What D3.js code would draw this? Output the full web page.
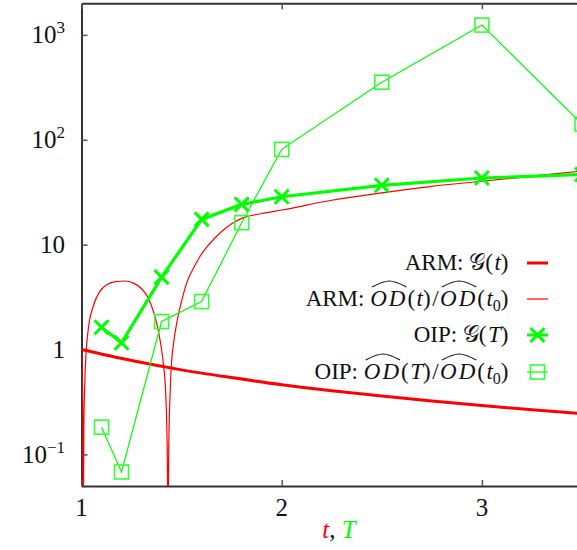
<!DOCTYPE html>
<html>
<head>
<meta charset="utf-8">
<script src="https://cdn.jsdelivr.net/npm/d3@7"></script>
<style>
  body { margin: 0; background: #fff; }
  svg { display: block; font-family: "Liberation Serif", "DejaVu Serif", serif; }
</style>
</head>
<body>
<div id="chart"></div>
<script>
// ARM: G(t), thick red line
const tArm = [1, 1.25, 1.5, 1.75, 2, 2.25, 2.5, 2.75, 3, 3.25, 3.5];
const gArm = [1, 0.785, 0.64, 0.54, 0.462, 0.405, 0.36, 0.323, 0.292, 0.266, 0.245];

// ARM: OD(t)/OD(t0), thin red curve (dips are where the ratio crosses zero)
const tArmOd = [1, 1.003, 1.006, 1.009, 1.012, 1.016, 1.022, 1.034, 1.059, 1.09, 1.13, 1.17, 1.217,
  1.26, 1.3, 1.325, 1.35, 1.375, 1.395, 1.41, 1.42, 1.428, 1.432, 1.436, 1.443, 1.45, 1.46,
  1.476, 1.5, 1.526, 1.56, 1.593, 1.64, 1.693, 1.75, 1.8, 1.9, 2, 2.25, 2.5, 2.75, 3, 3.25, 3.5];
const odArm = [1, 0.6, 0.3, 0.02, 0.2, 0.45, 0.87, 1.57, 2.6, 3.55, 4.2, 4.45, 4.5,
  4.3, 3.8, 3.3, 2.6, 1.81, 1.15, 0.7, 0.4, 0.12, 0.02, 0.12, 0.4, 0.76, 1.15,
  1.81, 2.9, 4.35, 6, 7.8, 10.2, 13, 15.8, 17.8, 19.8, 21.4, 26.5, 31.2, 36, 40.2, 45, 50.4];

// OIP points
const tOip = [1.1, 1.2, 1.4, 1.6, 1.8, 2.0, 2.5, 3.0, 3.5];
const gOip = [1.63, 1.16, 4.9, 17.4, 24.2, 28.6, 36.8, 43.2, 46.7];
const odOip = [0.182, 0.068, 1.85, 2.87, 16.2, 81, 354, 1240, 141];

const xTicks = [1, 2, 3];
const yTicks = [0.1, 1, 10, 100, 1000];
const yTickBase = ["10", "1", "10", "10", "10"];
const yTickExp = ["\u22121", "", "", "2", "3"];

const width = 577, height = 550;
const plotLeft = 81.5, plotTop = 3.3, plotBottom = 486, plotRight = 582;
const red = "#ff0000", green = "#00ff00";

const svg = d3.select("#chart").append("svg")
  .attr("width", width)
  .attr("height", height);

const x = d3.scaleLinear().domain([1, 3.5]).range([plotLeft, plotRight]);
const y = d3.scaleLog().domain([0.05, 2000]).range([plotBottom, plotTop]);

svg.append("clipPath").attr("id", "clip")
  .append("rect")
  .attr("x", plotLeft).attr("y", plotTop)
  .attr("width", plotRight - plotLeft).attr("height", plotBottom - plotTop);

// axes: ticks inside the frame
const tickStyle = g => {
  g.selectAll(".tick line").attr("stroke", "#555").attr("stroke-width", 1.5);
  g.select(".domain").attr("stroke", "#333").attr("stroke-width", 2);
};

svg.append("g")
  .attr("transform", `translate(${plotLeft},0)`)
  .call(d3.axisLeft(y).tickValues(yTicks).tickSize(-6).tickFormat("").tickSizeOuter(0))
  .call(tickStyle);

svg.append("g")
  .attr("transform", `translate(0,${plotBottom})`)
  .call(d3.axisBottom(x).tickValues(xTicks).tickSize(-6).tickFormat("").tickSizeOuter(0))
  .call(tickStyle);

svg.append("g")
  .attr("transform", `translate(0,${plotTop})`)
  .call(d3.axisTop(x).tickValues(xTicks).tickSize(-6).tickFormat("").tickSizeOuter(0))
  .call(tickStyle);

// x tick labels
svg.append("g").selectAll("text")
  .data(xTicks)
  .join("text")
  .attr("x", d => x(d))
  .attr("y", 516)
  .attr("text-anchor", "middle")
  .attr("font-size", 25)
  .attr("fill", "#111")
  .text(d => d);

// y tick labels with exponents
const yLab = svg.append("g").selectAll("text")
  .data(yTicks)
  .join("text")
  .attr("x", 65)
  .attr("y", d => y(d) + 8.5)
  .attr("text-anchor", "end")
  .attr("font-size", 25)
  .attr("fill", "#111");
yLab.append("tspan").text((d, i) => yTickBase[i]);
yLab.filter((d, i) => yTickExp[i] !== "")
  .append("tspan")
  .attr("dy", -10)
  .attr("font-size", 17)
  .text(d => yTickExp[yTicks.indexOf(d)]);

// data
const plot = svg.append("g").attr("clip-path", "url(#clip)");

const line = d3.line()
  .x(d => x(d[0]))
  .y(d => y(Math.max(d[1], 1e-4)));

plot.append("path")
  .datum(tArmOd.map((t, i) => [t, odArm[i]]))
  .attr("fill", "none").attr("stroke", red).attr("stroke-width", 1.2)
  .attr("d", line.curve(d3.curveMonotoneX));

plot.append("path")
  .datum(tArm.map((t, i) => [t, gArm[i]]))
  .attr("fill", "none").attr("stroke", red).attr("stroke-width", 3)
  .attr("d", line.curve(d3.curveMonotoneX));

plot.append("path")
  .datum(tOip.map((t, i) => [t, odOip[i]]))
  .attr("fill", "none").attr("stroke", green).attr("stroke-width", 1.2)
  .attr("d", line.curve(d3.curveLinear));

plot.append("path")
  .datum(tOip.map((t, i) => [t, gOip[i]]))
  .attr("fill", "none").attr("stroke", green).attr("stroke-width", 3.2)
  .attr("d", line.curve(d3.curveLinear));

const squareSize = 14, crossSize = 7;

plot.selectAll(".sq")
  .data(tOip.map((t, i) => [t, odOip[i]]))
  .join("rect")
  .attr("class", "sq")
  .attr("x", d => x(d[0]) - squareSize / 2)
  .attr("y", d => y(d[1]) - squareSize / 2)
  .attr("width", squareSize).attr("height", squareSize)
  .attr("fill", "none").attr("stroke", "#33ff33").attr("stroke-width", 1.6);

plot.selectAll(".cross")
  .data(tOip.map((t, i) => [t, gOip[i]]))
  .join("path")
  .attr("class", "cross")
  .attr("d", d => {
    const cx = x(d[0]), cy = y(d[1]);
    return `M${cx - crossSize},${cy - crossSize}L${cx + crossSize},${cy + crossSize}` +
      `M${cx - crossSize},${cy + crossSize}L${cx + crossSize},${cy - crossSize}`;
  })
  .attr("stroke", green).attr("stroke-width", 3);

// legend
const legendRows = [
  [{ s: "ARM: " }, { s: "\ud835\udca2" }, { s: "(" }, { s: "t", i: true }, { s: ")" }],
  [{ s: "ARM: " }, { s: "OD", i: true, hat: true }, { s: "(" }, { s: "t", i: true }, { s: ")/" },
   { s: "OD", i: true, hat: true }, { s: "(" }, { s: "t", i: true }, { s: "0", sub: true }, { s: ")" }],
  [{ s: "OIP: " }, { s: "\ud835\udca2" }, { s: "(" }, { s: "T", i: true }, { s: ")" }],
  [{ s: "OIP: " }, { s: "OD", i: true, hat: true }, { s: "(" }, { s: "T", i: true }, { s: ")/" },
   { s: "OD", i: true, hat: true }, { s: "(" }, { s: "t", i: true }, { s: "0", sub: true }, { s: ")" }]
];
const legendY = [263, 299, 335, 372];
const legendTextX = 510;

legendRows.forEach((segs, r) => {
  const cy = legendY[r];
  const txt = svg.append("text")
    .attr("x", legendTextX)
    .attr("y", cy + 7)
    .attr("text-anchor", "end")
    .attr("font-size", 23)
    .attr("fill", "#111");
  let shift = 0;
  segs.forEach(seg => {
    const ts = txt.append("tspan").text(seg.s);
    if (seg.i) ts.attr("font-style", "italic");
    if (seg.hat) ts.attr("letter-spacing", 2);
    if (/[()\/]/.test(seg.s)) ts.attr("letter-spacing", 1.5);
    if (seg.sub) { ts.attr("dy", 5).attr("font-size", 16); shift = 5; }
    else if (shift) { ts.attr("dy", -shift); shift = 0; }
  });
  // wide hats over OD
  const node = txt.node();
  let idx = 0;
  segs.forEach(seg => {
    if (seg.hat) {
      const a = node.getExtentOfChar(idx);
      const b = node.getExtentOfChar(idx + seg.s.length - 1);
      const x0 = a.x + 2, x1 = b.x + b.width - 1, yb = a.y + 1;
      const xm = (x0 + x1) / 2;
      svg.append("path")
        .attr("d", `M${x0},${yb}Q${xm - 6},${yb - 6} ${xm},${yb - 6}Q${xm + 6},${yb - 6} ${x1},${yb}`)
        .attr("fill", "none").attr("stroke", "#111").attr("stroke-width", 1.2);
    }
    idx += seg.s.length;
  });
});

// legend samples
const sx0 = 527, sx1 = 548, scx = 537.5;
svg.append("line").attr("x1", sx0).attr("x2", sx1).attr("y1", legendY[0]).attr("y2", legendY[0])
  .attr("stroke", red).attr("stroke-width", 3);
svg.append("line").attr("x1", sx0).attr("x2", sx1).attr("y1", legendY[1]).attr("y2", legendY[1])
  .attr("stroke", red).attr("stroke-width", 1.2);
svg.append("line").attr("x1", sx0).attr("x2", sx1).attr("y1", legendY[2]).attr("y2", legendY[2])
  .attr("stroke", green).attr("stroke-width", 3);
svg.append("path")
  .attr("d", `M${scx - crossSize},${legendY[2] - crossSize}L${scx + crossSize},${legendY[2] + crossSize}` +
    `M${scx - crossSize},${legendY[2] + crossSize}L${scx + crossSize},${legendY[2] - crossSize}`)
  .attr("stroke", green).attr("stroke-width", 3);
svg.append("line").attr("x1", sx0).attr("x2", sx1).attr("y1", legendY[3]).attr("y2", legendY[3])
  .attr("stroke", green).attr("stroke-width", 1.2);
svg.append("rect")
  .attr("x", scx - squareSize / 2).attr("y", legendY[3] - squareSize / 2)
  .attr("width", squareSize).attr("height", squareSize)
  .attr("fill", "none").attr("stroke", "#33ff33").attr("stroke-width", 1.6);

// x axis title
const xt = svg.append("text")
  .attr("x", 339).attr("y", 538)
  .attr("text-anchor", "middle")
  .attr("font-size", 25);
xt.append("tspan").attr("font-style", "italic").attr("fill", red).text("t");
xt.append("tspan").attr("fill", "#111").text(", ");
xt.append("tspan").attr("font-style", "italic").attr("fill", green).text("T");
</script>
</body>
</html>
